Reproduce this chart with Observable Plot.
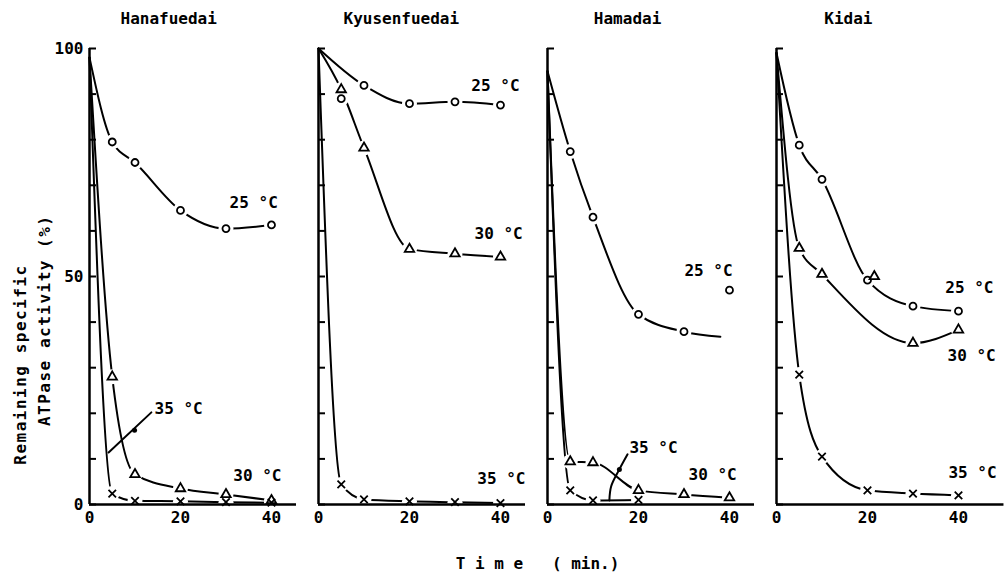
<!DOCTYPE html>
<html><head><meta charset="utf-8">
<script src="https://cdn.jsdelivr.net/npm/d3@7"></script>
<script src="https://cdn.jsdelivr.net/npm/@observablehq/plot@0.6"></script>
<style>
html,body{margin:0;padding:0;background:#fff;}
</style></head><body><div id="chart"></div>
<script>
const panels = ["Hanafuedai","Kyusenfuedai","Hamadai","Kidai"];
const titleTime = [17.4,18.2,17.6,15.8];
const temps = ["25 °C","30 °C","35 °C"];
const times = [0,5,10,20,30,40];
const hanafuedai25 = [98,79.5,75,64.5,60.5,61.3];
const hanafuedai30 = [98,28,6.6,3.5,2.2,0.9];
const hanafuedai35 = [98,2.4,0.8,0.7,0.5,0.4];
const kyusenfuedai25 = [100,null,91.9,87.9,88.3,87.6];
const kyusenfuedai30 = [100,91,78.2,56,55,54.3];
const kyusenfuedai35 = [100,4.4,1.1,0.7,0.5,0.3];
const hamadai25 = [95,77.4,63,41.7,37.9,null];
const hamadai30 = [95,9.4,9.2,3.1,2.2,1.5];
const hamadai35 = [95,3.1,0.9,1.0,null,null];
const kidai25 = [99,78.8,71.3,49.2,43.5,42.4];
const kidai30 = [99,56.2,50.5,null,35.4,38.3];
const kidai35 = [99,28.5,10.5,3.1,2.4,2.0];
// markers that are not joined to their curve
const strayPanel = ["Kyusenfuedai","Kidai","Hamadai"];
const strayTemp = ["25 °C","30 °C","25 °C"];
const strayTime = [5,21.5,40];
const strayValue = [89,50,47];
// curve continuation without a marker
const tailPanel = ["Hamadai"];
const tailTemp = ["25 °C"];
const tailTime = [38];
const tailValue = [36.8];
// curve labels
const labelPanel = ["Hanafuedai","Hanafuedai","Hanafuedai","Kyusenfuedai","Kyusenfuedai","Kyusenfuedai","Hamadai","Hamadai","Hamadai","Kidai","Kidai","Kidai"];
const labelText = ["25 °C","30 °C","35 °C","25 °C","30 °C","35 °C","25 °C","30 °C","35 °C","25 °C","30 °C","35 °C"];
const labelTime = [30.8,31.6,14.3,33.6,34.3,34.9,30.1,31.0,18.0,37.1,37.6,37.8];
const labelValue = [66.2,6.2,20.9,91.9,59.3,5.7,51.3,6.4,12.5,47.5,32.7,7.0];
// leader lines from "35 °C" labels
const leaderPanel = ["Hanafuedai","Hanafuedai","Hamadai","Hamadai","Hamadai","Hamadai"];
const leaderId = [1,1,2,2,2,2];
const leaderTime = [13.6,4.2,17.6,15.8,14.0,13.6];
const leaderValue = [20.2,11.4,11.0,7.7,4.0,0.9];
const leaderDotPanel = ["Hanafuedai","Hamadai"];
const leaderDotTime = [9.9,15.8];
const leaderDotValue = [16.3,7.7];
// axes
const axisEnd = [45.5,45.5,45.5,50];
const yMinorTicks = [0,10,20,30,40,50,60,70,80,90,100];
const yTickLabels = [0,50,100];
const xTickLabels = [0,20,40];
const yTitles = ["Remaining specific","ATPase activity (%)"];
const yTitleValue = [30.7,40.4];
const xTitle = "T i m e   ( min.)";

const seriesByPanel = {
  Hanafuedai: [hanafuedai25, hanafuedai30, hanafuedai35],
  Kyusenfuedai: [kyusenfuedai25, kyusenfuedai30, kyusenfuedai35],
  Hamadai: [hamadai25, hamadai30, hamadai35],
  Kidai: [kidai25, kidai30, kidai35]
};
const lineRows = [], markRows = [];
panels.forEach(p => seriesByPanel[p].forEach((vals, j) => vals.forEach((v, k) => {
  if (v == null) return;
  const row = {panel: p, temp: temps[j], time: times[k], value: v};
  lineRows.push(row);
  if (times[k] > 0) markRows.push(row);
})));
tailPanel.forEach((p, i) => lineRows.push({panel: p, temp: tailTemp[i], time: tailTime[i], value: tailValue[i]}));
strayPanel.forEach((p, i) => markRows.push({panel: p, temp: strayTemp[i], time: strayTime[i], value: strayValue[i]}));
const labelRows = labelPanel.map((p, i) => ({panel: p, text: labelText[i], time: labelTime[i], value: labelValue[i]}));
const leaderRows = leaderPanel.map((p, i) => ({panel: p, id: leaderId[i], time: leaderTime[i], value: leaderValue[i]}));
const leaderDots = leaderDotPanel.map((p, i) => ({panel: p, time: leaderDotTime[i], value: leaderDotValue[i]}));
const axisRows = panels.map((p, i) => ({panel: p, end: axisEnd[i]}));
const titleRows = panels.map((p, i) => ({panel: p, time: titleTime[i]}));

const plot = Plot.plot({
  width: 1004, height: 578,
  marginTop: 48, marginBottom: 74, marginLeft: 88, marginRight: 21,
  style: {fontFamily: "'DejaVu Sans Mono', monospace", fontSize: "16px", fontWeight: "bold", color: "black", background: "white"},
  fx: {domain: panels, paddingInner: 0.0974, paddingOuter: 0, axis: null, label: null},
  x: {domain: [0, 45.5], axis: null, label: null},
  y: {domain: [0, 100], axis: null, label: null},
  symbol: {domain: temps, range: ["circle", "triangle", "times"]},
  marks: [
    Plot.line(lineRows, {fx: "panel", x: "time", y: "value", z: "temp", curve: "monotone-x", stroke: "black", strokeWidth: 2}),
    Plot.dot(markRows, {fx: "panel", x: "time", y: "value", r: 7.5, fill: "white", stroke: null}),
    Plot.ruleX([0], {stroke: "black", strokeWidth: 2.5}),
    Plot.ruleY(axisRows, {fx: "panel", y: 0, x1: 0, x2: "end", stroke: "black", strokeWidth: 2.5}),
    Plot.axisY({ticks: yMinorTicks, tickSize: -7, tickFormat: () => "", facetAnchor: null, strokeWidth: 2, label: null}),
    Plot.axisY({ticks: yTickLabels, tickSize: 0, tickPadding: 6, facetAnchor: "left", label: null}),
    Plot.axisX({ticks: xTickLabels, tickSize: 0, tickPadding: 7, label: null}),
    Plot.dot(markRows, {fx: "panel", x: "time", y: "value", symbol: "temp", r: 3.5, fill: "white", stroke: "black", strokeWidth: 1.8}),
    Plot.line(leaderRows, {fx: "panel", x: "time", y: "value", z: "id", curve: "catmull-rom", stroke: "black", strokeWidth: 2}),
    Plot.dot(leaderDots, {fx: "panel", x: "time", y: "value", r: 2.5, fill: "black"}),
    Plot.text(labelRows, {fx: "panel", x: "time", y: "value", text: "text", textAnchor: "start", lineAnchor: "middle"}),
    Plot.text(titleRows, {fx: "panel", x: "time", text: "panel", frameAnchor: "top", dy: -30, lineAnchor: "middle"}),
    Plot.text([{panel: "Hanafuedai", text: yTitles[0], value: yTitleValue[0]}], {fx: "panel", x: () => 0, y: "value", text: "text", rotate: -90, dx: -69, lineAnchor: "middle"}),
    Plot.text([{panel: "Hanafuedai", text: yTitles[1], value: yTitleValue[1]}], {fx: "panel", x: () => 0, y: "value", text: "text", rotate: -90, dx: -45, lineAnchor: "middle"}),
    Plot.text([{panel: "Hamadai", text: xTitle}], {fx: "panel", text: "text", frameAnchor: "bottom-left", textAnchor: "middle", dx: -10, dy: 59, lineAnchor: "middle"})
  ]
});
d3.select(plot).selectAll("text")
  .filter(function () { return yTitles.includes(this.textContent); })
  .style("letter-spacing", "1.5px");
document.getElementById("chart").appendChild(plot);
</script></body></html>
